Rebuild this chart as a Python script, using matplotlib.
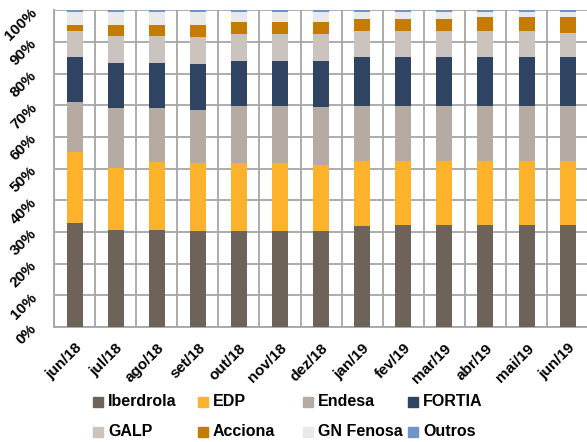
import numpy as np
import matplotlib
matplotlib.use('Agg')
import matplotlib.pyplot as plt
import matplotlib.transforms as mtransforms
from matplotlib.patches import Rectangle

plt.rcParams['font.family'] = ['Liberation Sans', 'DejaVu Sans']

# Meses
meses = ['jun/18', 'jul/18', 'ago/18', 'set/18', 'out/18', 'nov/18', 'dez/18',
         'jan/19', 'fev/19', 'mar/19', 'abr/19', 'mai/19', 'jun/19']

# Quotas de mercado (%)
iberdrola = [32.7, 30.7, 30.7, 30.4, 30.4, 30.4, 30.4, 31.9, 32.3, 32.3, 32.3, 32.3, 32.3]
edp       = [22.4, 19.6, 21.4, 21.3, 21.3, 21.3, 20.9, 20.6, 20.2, 20.2, 20.2, 20.2, 20.2]
endesa    = [15.8, 18.7, 16.9, 16.8, 18.0, 18.0, 18.0, 17.4, 17.2, 17.2, 17.2, 17.2, 17.2]
fortia    = [14.3, 14.4, 14.4, 14.5, 14.3, 14.3, 14.7, 15.3, 15.5, 15.5, 15.5, 15.5, 15.5]
galp      = [8.1, 8.4, 8.4, 8.4, 8.5, 8.5, 8.5, 8.1, 8.1, 8.1, 8.1, 8.1, 7.6]
acciona   = [1.9, 3.4, 3.4, 3.8, 3.7, 3.7, 3.7, 4.0, 4.0, 4.0, 4.5, 4.5, 5.0]
gn_fenosa = [4.2, 4.2, 4.2, 4.2, 3.2, 3.2, 3.2, 2.1, 2.1, 2.1, 1.6, 1.6, 1.6]
outros    = [0.6, 0.6, 0.6, 0.6, 0.6, 0.6, 0.6, 0.6, 0.6, 0.6, 0.6, 0.6, 0.6]

series = [
    ('Iberdrola', iberdrola, '#6E6359'),
    ('EDP', edp, '#FDB22B'),
    ('Endesa', endesa, '#B5ABA3'),
    ('FORTIA', fortia, '#2F4463'),
    ('GALP', galp, '#CBC3BE'),
    ('Acciona', acciona, '#C47B00'),
    ('GN Fenosa', gn_fenosa, '#EBE9E7'),
    ('Outros', outros, '#6F94C8'),
]

W, H = 587, 442
fig = plt.figure(figsize=(W / 100, H / 100), dpi=100)
ax = fig.add_axes([0.092, 0.260, 0.91, 0.717])

x = np.arange(len(meses))
base = np.zeros(len(meses))
for nome, vals, cor in series:
    ax.bar(x, vals, bottom=base, width=0.39, color=cor, zorder=3)
    base += np.array(vals)

ax.set_xlim(-0.5, len(meses) - 0.5)
ax.set_ylim(0, 100)
ax.set_yticks(np.arange(0, 101, 10))
ax.set_yticklabels([f'{v}%' for v in range(0, 101, 10)])
ax.set_xticks(x)
ax.set_xticklabels(meses)
ax.set_xticks(np.arange(-0.5, len(meses), 1), minor=True)

for lbl in ax.get_xticklabels():
    lbl.set_rotation(45)
    lbl.set_ha('right')
    lbl.set_rotation_mode('anchor')
    lbl.set_fontweight('bold')
    lbl.set_fontsize(11)

desloca = mtransforms.ScaledTranslation(0, -4 / 72, fig.dpi_scale_trans)
for lbl in ax.get_yticklabels():
    lbl.set_rotation(45)
    lbl.set_ha('right')
    lbl.set_va('center')
    lbl.set_rotation_mode('anchor')
    lbl.set_fontweight('bold')
    lbl.set_fontsize(11)
    lbl.set_transform(lbl.get_transform() + desloca)

ax.tick_params(axis='both', which='both', length=0)
ax.tick_params(axis='x', pad=10)
ax.tick_params(axis='y', pad=14)
ax.yaxis.grid(True, color='#A6A6A6', linewidth=1.3, zorder=0)
ax.xaxis.grid(True, which='minor', color='#A6A6A6', linewidth=1.3, zorder=0)
for s in ['top', 'right']:
    ax.spines[s].set_visible(False)
for s in ['left', 'bottom']:
    ax.spines[s].set_color('#A6A6A6')
    ax.spines[s].set_linewidth(1.3)

# legenda em grelha 4x2, colunas com largura fixa
for i, (nome, vals, cor) in enumerate(series):
    col, row = i % 4, i // 4
    px = 93 + 105 * col
    py = 402 + 30 * row
    fig.add_artist(Rectangle((px / W, 1 - (py + 5) / H), 10 / W, 10 / H,
                             transform=fig.transFigure, color=cor))
    fig.text((px + 15) / W, 1 - py / H, nome, fontsize=11.5, fontweight='bold',
             va='center', ha='left')

fig.savefig('out.png', dpi=100)
